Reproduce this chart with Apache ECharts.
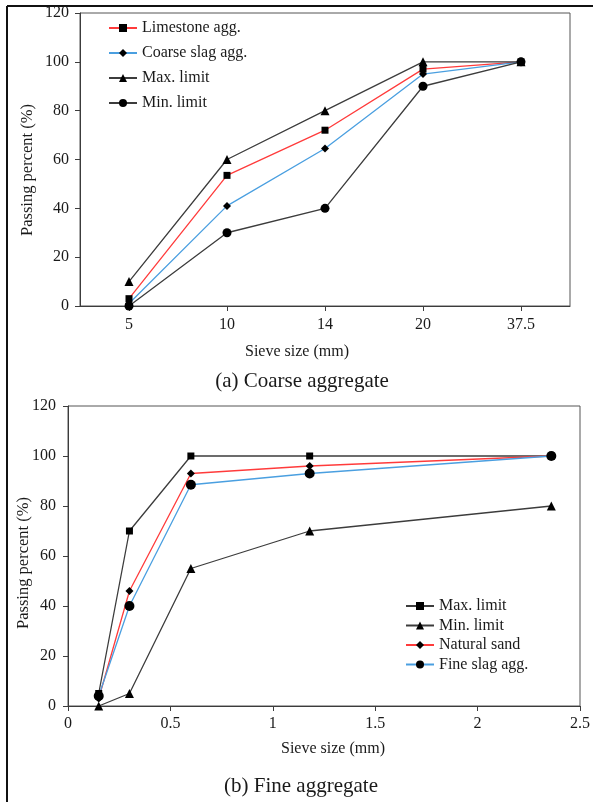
<!DOCTYPE html>
<html>
<head>
<meta charset="utf-8">
<script src="https://cdn.jsdelivr.net/npm/echarts@6/dist/echarts.min.js"></script>
<style>
  html, body { margin: 0; padding: 0; background: #fff; }
  #chart { width: 593px; height: 802px; }
</style>
</head>
<body>
<div id="chart"></div>
<script>
// (a) coarse aggregate
var coarseSizes = ['5', '10', '14', '20', '37.5'];
var limestone = [3, 53.5, 72, 97, 100];
var coarseSlag = [1, 41, 64.5, 95, 100];
var coarseMax = [10, 60, 80, 100, 100];
var coarseMin = [0, 30, 40, 90, 100];

// (b) fine aggregate
var fineSizes = [0.15, 0.3, 0.6, 1.18, 2.36];
var fineMax = [5, 70, 100, 100, 100];
var fineMin = [0, 5, 55, 70, 80];
var naturalSand = [3, 46, 93, 96, 100];
var fineSlag = [4, 40, 88.5, 93, 100];

var yTicks = [0, 20, 40, 60, 80, 100, 120];

var FONT = 'Liberation Serif';
var TXT = '#1a1a1a';
var GRAY = '#3c3c3c';

function pairs(xs, ys) {
  var out = [];
  for (var i = 0; i < xs.length; i++) out.push([xs[i], ys[i]]);
  return out;
}

function line(name, data, color, symbol, size, xi) {
  return {
    type: 'line', name: name, data: data,
    xAxisIndex: xi, yAxisIndex: xi,
    symbol: symbol, symbolSize: size, showAllSymbol: true,
    lineStyle: { color: color, width: 1.3 },
    itemStyle: { color: '#000' },
    emphasis: { disabled: true },
    z: 3
  };
}

var axisLine = { show: true, lineStyle: { color: GRAY, width: 1 } };
var axisTick = { show: true, length: 5, lineStyle: { color: GRAY } };
var labelStyle = { color: TXT, fontFamily: FONT, fontSize: 16 };

function titleText(txt, x, y, size, rot) {
  return {
    type: 'text', x: x, y: y, rotation: rot || 0,
    style: { text: txt, fontFamily: FONT, fontSize: size, fill: TXT, align: 'center', verticalAlign: 'middle' }
  };
}

var option = {
  animation: false,
  backgroundColor: '#fff',
  grid: [
    { left: 80, top: 13, width: 490, height: 293, show: true, borderColor: '#555', borderWidth: 1 },
    { left: 68, top: 406, width: 515, height: 300, show: true, borderColor: '#555', borderWidth: 1 }
  ],
  xAxis: [
    {
      type: 'category', gridIndex: 0, data: coarseSizes, boundaryGap: true,
      axisLine: axisLine, axisTick: { show: true, length: 5, alignWithLabel: true, lineStyle: { color: GRAY } },
      axisLabel: Object.assign({ margin: 11 }, labelStyle), splitLine: { show: false }
    },
    {
      type: 'value', gridIndex: 1, min: 0, max: 2.5, interval: 0.5,
      axisLine: axisLine, axisTick: axisTick,
      axisLabel: Object.assign({ margin: 10 }, labelStyle), splitLine: { show: false }
    }
  ],
  yAxis: [
    {
      type: 'value', gridIndex: 0, min: yTicks[0], max: yTicks[yTicks.length - 1], interval: 20,
      axisLine: axisLine, axisTick: axisTick,
      axisLabel: Object.assign({ margin: 11 }, labelStyle), splitLine: { show: false }
    },
    {
      type: 'value', gridIndex: 1, min: yTicks[0], max: yTicks[yTicks.length - 1], interval: 20,
      axisLine: axisLine, axisTick: axisTick,
      axisLabel: Object.assign({ margin: 12 }, labelStyle), splitLine: { show: false }
    }
  ],
  legend: [
    {
      orient: 'vertical', left: 103, top: 15, itemGap: 9,
      itemWidth: 28, itemHeight: 10,
      textStyle: { color: TXT, fontFamily: FONT, fontSize: 16 },
      data: ['Limestone agg.', 'Coarse slag agg.', 'Max. limit', 'Min. limit']
    },
    {
      orient: 'vertical', left: 400, top: 593, itemGap: 3.5,
      itemWidth: 28, itemHeight: 10,
      textStyle: { color: TXT, fontFamily: FONT, fontSize: 16 },
      data: ['Max. limit ', 'Min. limit ', 'Natural sand', 'Fine slag agg.']
    }
  ],
  series: [
    line('Limestone agg.', limestone, '#ff3b3b', 'rect', 7, 0),
    line('Coarse slag agg.', coarseSlag, '#4a9fe0', 'diamond', 8, 0),
    line('Max. limit', coarseMax, GRAY, 'triangle', 9, 0),
    line('Min. limit', coarseMin, GRAY, 'circle', 9, 0),
    line('Max. limit ', pairs(fineSizes, fineMax), GRAY, 'rect', 7, 1),
    line('Min. limit ', pairs(fineSizes, fineMin), GRAY, 'triangle', 9, 1),
    line('Natural sand', pairs(fineSizes, naturalSand), '#ff3b3b', 'diamond', 8, 1),
    line('Fine slag agg.', pairs(fineSizes, fineSlag), '#4a9fe0', 'circle', 10, 1)
  ],
  graphic: [
    { type: 'line', shape: { x1: 7, y1: 6, x2: 593, y2: 6 }, style: { stroke: '#111', lineWidth: 2 } },
    { type: 'line', shape: { x1: 7, y1: 6, x2: 7, y2: 802 }, style: { stroke: '#111', lineWidth: 2 } },
    titleText('Passing percent (%)', 28, 170, 16.5, Math.PI / 2),
    titleText('Sieve size (mm)', 297, 352, 16),
    titleText('(a) Coarse aggregate', 302, 381, 21),
    titleText('Passing percent (%)', 24, 563, 16.5, Math.PI / 2),
    titleText('Sieve size (mm)', 333, 749, 16),
    titleText('(b) Fine aggregate', 301, 786, 21)
  ]
};

var myChart = echarts.init(document.getElementById('chart'));
myChart.setOption(option);
</script>
</body>
</html>
